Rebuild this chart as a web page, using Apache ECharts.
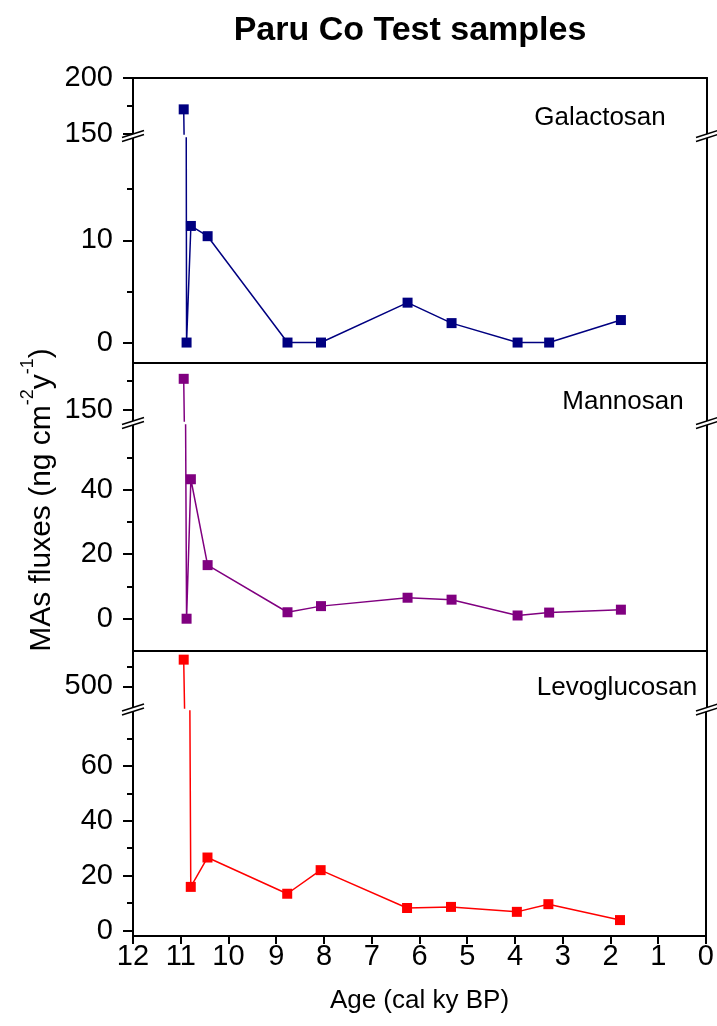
<!DOCTYPE html>
<html><head><meta charset="utf-8">
<script src="https://cdn.jsdelivr.net/npm/echarts@6/dist/echarts.min.js"></script>
<style>html,body{margin:0;padding:0;background:#fff}#c{width:717px;height:1026px}</style>
</head><body><div id="c"></div>
<script>
// ---- data ----
const ages = [10.94, 10.88, 10.79, 10.44, 8.77, 8.07, 6.26, 5.34, 3.96, 3.30, 1.80];
const galactosan = [172, 0, 11.4, 10.4, 0, 0, 3.9, 1.9, 0, 0, 2.2];
const mannosan = [177, 0, 43.2, 16.6, 2.0, 3.9, 6.5, 5.9, 1.0, 1.9, 2.8];
const levoglucosan = [534, null, 15.9, 26.6, 13.4, 22.0, 8.2, 8.6, 6.8, 9.6, 3.8];
const seriesNames = ['Galactosan', 'Mannosan', 'Levoglucosan'];
const seriesValues = [galactosan, mannosan, levoglucosan];
const xTickLabels = ['0','1','2','3','4','5','6','7','8','9','10','11','12'];
// broken y axis segments per panel
const upperRanges = [[150, 200], [140, 190], [472.5, 545]];
const lowerRanges = [[-2, 20], [-10, 60], [-2, 80]];
const upperMajor = [[150, 200], [150], [500]];
const upperMinor = [[175], [175], [525]];
const lowerMajor = [[0, 10], [0, 20, 40], [0, 20, 40, 60]];
const lowerMinor = [[5, 15], [10, 30, 50], [10, 30, 50, 70]];

// ---- style / layout ----
const colors = ['#000080', '#800080', '#ff0000'];
const FONT = '"Liberation Sans", Arial, sans-serif';
const LEFT = 133, RIGHT = 10, W = 717;
const gridBoxes = [
  {top: 78, height: 56}, {top: 138, height: 225},
  {top: 364, height: 57}, {top: 425, height: 226},
  {top: 651, height: 57}, {top: 711, height: 225}
];
const labelPos = [[600, 118], [623, 402], [617, 688]];

const chart = echarts.init(document.getElementById('c'), null, {renderer: 'canvas'});

const grid = [], xAxis = [], yAxis = [], series = [];
const axisLineStyle = {color: '#000', width: 2};
gridBoxes.forEach((g, i) => {
  const p = Math.floor(i / 2), upper = i % 2 === 0;
  const range = upper ? upperRanges[p] : lowerRanges[p];
  const major = upper ? upperMajor[p] : lowerMajor[p];
  const minor = upper ? upperMinor[p] : lowerMinor[p];
  const last = i === gridBoxes.length - 1;
  grid.push({left: LEFT, right: RIGHT, top: g.top, height: g.height, containLabel: false});
  xAxis.push({
    gridIndex: i, type: 'value', min: 0, max: 12, interval: 1, inverse: true,
    position: upper ? 'top' : 'bottom',
    axisLine: {show: !(upper && p > 0), onZero: false, lineStyle: axisLineStyle},
    axisTick: {show: last, length: 8, lineStyle: {color: '#000', width: 2}},
    axisLabel: {show: last, fontSize: 29, fontFamily: FONT, color: '#000', margin: 6,
      formatter: v => xTickLabels[Math.round(v)]},
    splitLine: {show: false},
    name: last ? 'Age (cal ky BP)' : '', nameLocation: 'middle', nameGap: 52,
    nameTextStyle: {fontSize: 26, fontFamily: FONT, color: '#000'}
  });
  // main left axis
  yAxis.push({
    gridIndex: i, type: 'value', min: range[0], max: range[1], position: 'left',
    axisLine: {show: true, onZero: false, lineStyle: axisLineStyle},
    axisTick: {show: true, length: 10, customValues: major, lineStyle: {color: '#000', width: 2}},
    axisLabel: {show: true, customValues: major, fontSize: 29, fontFamily: FONT, color: '#000', margin: 20},
    splitLine: {show: false}
  });
  // minor ticks
  yAxis.push({
    gridIndex: i, type: 'value', min: range[0], max: range[1], position: 'left',
    axisLine: {show: false, onZero: false},
    axisTick: {show: true, length: 6, customValues: minor, lineStyle: {color: '#000', width: 2}},
    axisLabel: {show: false}, splitLine: {show: false}
  });
  // right frame
  yAxis.push({
    gridIndex: i, type: 'value', min: range[0], max: range[1], position: 'right',
    axisLine: {show: true, onZero: false, lineStyle: axisLineStyle},
    axisTick: {show: false}, axisLabel: {show: false}, splitLine: {show: false}
  });
  const vals = seriesValues[p];
  series.push({
    type: 'line', name: seriesNames[p], xAxisIndex: i, yAxisIndex: i * 3,
    data: ages.map((a, k) => [a, vals[k]]).filter(d => d[1] !== null),
    symbol: 'rect', symbolSize: 10, clip: true,
    lineStyle: {color: colors[p], width: 1.5},
    itemStyle: {color: colors[p]},
    animation: false
  });
});

// graphic: title, labels, y title, axis breaks
const graphic = [];
graphic.push({type: 'text', x: 410, y: 31, style: {text: 'Paru Co Test samples',
  font: 'bold 34px ' + FONT, fill: '#000', align: 'center', verticalAlign: 'middle'}});
seriesNames.forEach((n, p) => {
  graphic.push({type: 'text', x: labelPos[p][0], y: labelPos[p][1], style: {text: n,
    font: '26px ' + FONT, fill: '#000', align: 'center', verticalAlign: 'middle'}});
});
graphic.push({type: 'text', x: 38, y: 500, rotation: Math.PI / 2, style: {
  text: '{b|MAs fluxes (ng cm}{s|-2}{b|y}{s|-1}{b|)}', align: 'center', verticalAlign: 'middle',
  rich: {
    b: {fontSize: 30, fontFamily: FONT, color: '#000', lineHeight: 38, verticalAlign: 'bottom'},
    s: {fontSize: 18, fontFamily: FONT, color: '#000', lineHeight: 38, verticalAlign: 'top'}
  }}});
for (let p = 0; p < 3; p++) {
  const up = gridBoxes[p * 2], lo = gridBoxes[p * 2 + 1];
  const b = (up.top + up.height + lo.top) / 2;
  [LEFT, W - RIGHT].forEach(x => {
    graphic.push({type: 'polygon', z: 100, shape: {points: [[x - 11, b + 1.5], [x + 11, b - 5.5], [x + 11, b - 1.5], [x - 11, b + 5.5]]},
      style: {fill: '#fff'}});
    graphic.push({type: 'line', z: 101, shape: {x1: x - 11, y1: b + 1.5, x2: x + 11, y2: b - 5.5}, style: {stroke: '#000', lineWidth: 1.5}});
    graphic.push({type: 'line', z: 101, shape: {x1: x - 11, y1: b + 5.5, x2: x + 11, y2: b - 1.5}, style: {stroke: '#000', lineWidth: 1.5}});
  });
}

chart.setOption({
  backgroundColor: '#fff', animation: false,
  grid, xAxis, yAxis, series, graphic
});
</script>
</body></html>
